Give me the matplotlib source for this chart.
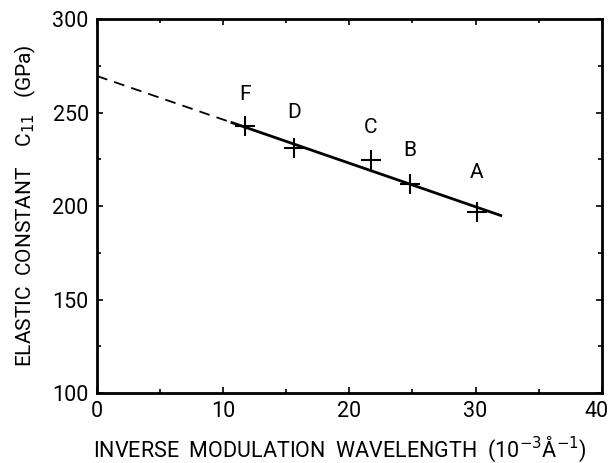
import matplotlib.pyplot as plt
import numpy as np
from matplotlib.ticker import MultipleLocator, FuncFormatter

# data
labels = ['F', 'D', 'C', 'B', 'A']
x = [11.7, 15.6, 21.7, 24.8, 30.1]
y = [242.8, 231.0, 224.6, 212.0, 197.0]
label_y = [256.5, 247.0, 239.0, 226.5, 215.0]

# linear fit drawn in the figure
fit_x_dash = [0, 10.7]
fit_x_solid = [10.7, 32]
intercept = 269.5
slope = -2.33

plt.rcParams['font.family'] = ['Roboto', 'DejaVu Sans']

fig = plt.figure(figsize=(6.11, 4.63), dpi=100)
ax = fig.add_axes([0.1588, 0.151, 0.826, 0.808])

fx = np.array(fit_x_dash)
ax.plot(fx, intercept + slope * fx, 'k--', lw=1.3, dashes=(6, 4))
fx = np.array(fit_x_solid)
ax.plot(fx, intercept + slope * fx, 'k-', lw=2)

ax.plot(x, y, 'k+', ms=14, mew=1.5)
for lx, ly, t in zip(x, label_y, labels):
    ax.text(lx, ly, t, ha='center', va='baseline', fontsize=15)

ax.set_xlim(0, 40)
ax.set_ylim(100, 300)
ax.xaxis.set_major_locator(MultipleLocator(10))
ax.xaxis.set_minor_locator(MultipleLocator(5))
ax.yaxis.set_major_locator(MultipleLocator(50))
ax.yaxis.set_minor_locator(MultipleLocator(25))
# the last x label (40) is drawn separately, a little to the left
ax.xaxis.set_major_formatter(FuncFormatter(lambda v, p: '' if v >= 40 else '%d' % v))
ax.tick_params(which='both', direction='in', top=True, right=True, labelsize=15.5, width=1.2)
ax.tick_params(which='major', length=4, pad=6)
ax.tick_params(which='minor', length=3)
for s in ax.spines.values():
    s.set_linewidth(2)
ax.annotate('40', xy=(40, 100), xycoords='data', xytext=(-4, -6),
            textcoords='offset points', ha='center', va='top', fontsize=15.5)

ax.set_xlabel(r'INVERSE  MODULATION  WAVELENGTH  (10$^{-3}$Å$^{-1}$)', fontsize=15.5)
ax.xaxis.set_label_coords(0.481, -0.112)
ax.set_ylabel(r'ELASTIC  CONSTANT    C$_{11}$   (GPa)', fontsize=15, labelpad=10)

fig.savefig('out.png', dpi=100)
